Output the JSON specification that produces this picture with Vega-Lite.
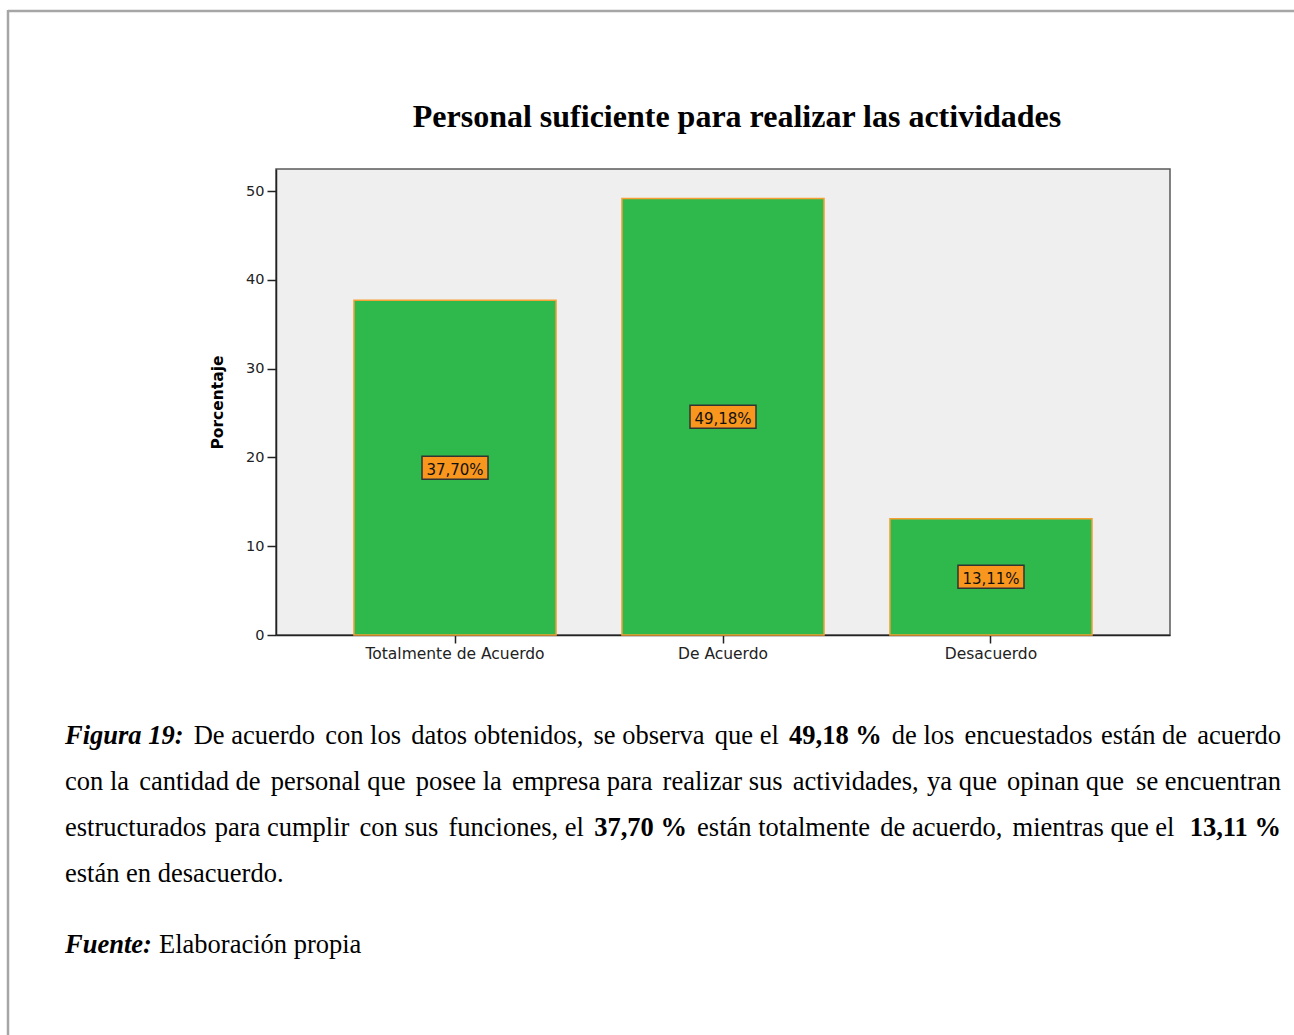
{
  "$schema": "https://vega.github.io/schema/vega-lite/v6.json",
  "width": 894,
  "height": 466,
  "autosize": {"type": "none"},
  "padding": {"left": 276, "top": 169, "right": 124, "bottom": 400},
  "background": "white",
  "config": {
    "view": {"fill": "#efefef", "stroke": "#5a5a5a", "strokeWidth": 1.5},
    "axis": {
      "grid": false,
      "labelFont": "DejaVu Sans",
      "labelFontSize": 14.5,
      "labelColor": "#222222",
      "tickColor": "#222222",
      "tickWidth": 1.5,
      "domainColor": "#222222",
      "domainWidth": 1.5
    },
    "text": {"font": "Liberation Serif", "fontSize": 26.5, "color": "#000000", "baseline": "alphabetic", "align": "left"}
  },
  "layer": [
    {
      "data": {
        "values": [
          {"respuesta": "Totalmente de Acuerdo", "porcentaje": 37.70},
          {"respuesta": "De Acuerdo", "porcentaje": 49.18},
          {"respuesta": "Desacuerdo", "porcentaje": 13.11}
        ]
      },
      "mark": {"type": "bar", "fill": "#2fb84b", "stroke": "#f5a034", "strokeWidth": 1.5},
      "encoding": {
        "x": {
          "field": "respuesta",
          "type": "nominal",
          "sort": null,
          "scale": {"paddingInner": 0.246, "paddingOuter": 0.291},
          "axis": {"title": null, "labelAngle": 0, "tickSize": 8, "labelPadding": 3, "labelFontSize": 15.5}
        },
        "y": {
          "field": "porcentaje",
          "type": "quantitative",
          "scale": {"domain": [0, 52.5], "nice": false},
          "axis": {
            "values": [0, 10, 20, 30, 40, 50],
            "tickSize": 9,
            "labelPadding": 3,
            "title": "Porcentaje",
            "titleFont": "DejaVu Sans",
            "titleFontSize": 15.5,
            "titleFontWeight": "bold",
            "titleColor": "#000000",
            "titlePadding": 20
          }
        }
      }
    },
    {
      "data": {
        "values": [
          {"respuesta": "Totalmente de Acuerdo", "porcentaje": 37.70},
          {"respuesta": "De Acuerdo", "porcentaje": 49.18},
          {"respuesta": "Desacuerdo", "porcentaje": 13.11}
        ]
      },
      "encoding": {
        "x": {"field": "respuesta", "type": "nominal", "sort": null},
        "y": {
          "field": "porcentaje",
          "type": "quantitative",
          "scale": {"domain": [0, 105], "nice": false},
          "axis": null
        }
      },
      "layer": [
        {
          "mark": {
            "type": "point",
            "shape": "M-1,-0.348H1V0.348H-1Z",
            "size": 4356,
            "filled": true,
            "fill": "#f8961e",
            "stroke": "#333333",
            "strokeWidth": 1.5,
            "opacity": 1,
            "dy": 2
          }
        },
        {
          "mark": {
            "type": "text",
            "font": "DejaVu Sans",
            "fontSize": 15,
            "color": "#111111",
            "align": "center",
            "baseline": "middle",
            "dy": 2,
            "text": {"expr": "replace(format(datum.porcentaje, '.2f'), '.', ',') + '%'"}
          }
        }
      ]
    },
    {
      "data": {"values": [{"titulo": "Personal suficiente para realizar las actividades"}]},
      "mark": {"type": "text", "fontSize": 32, "fontWeight": "bold", "align": "center"},
      "encoding": {"text": {"field": "titulo"}, "x": {"value": 461}, "y": {"value": -42}}
    },
    {
      "data": {"values": [{"borde": "superior"}]},
      "mark": {"type": "rule", "color": "#a6a6a6", "strokeWidth": 2.5},
      "encoding": {"x": {"value": -268}, "x2": {"value": 1030}, "y": {"value": -158}, "y2": {"value": -158}}
    },
    {
      "data": {"values": [{"borde": "izquierdo"}]},
      "mark": {"type": "rule", "color": "#a6a6a6", "strokeWidth": 2.5},
      "encoding": {"x": {"value": -268}, "x2": {"value": -268}, "y": {"value": -159}, "y2": {"value": 870}}
    },

    {"data": {"values": [{"texto": "Figura 19:"}]}, "mark": {"type": "text", "fontWeight": "bold", "fontStyle": "italic"}, "encoding": {"text": {"field": "texto"}, "x": {"value": -211}, "y": {"value": 575}}},
    {"data": {"values": [{"texto": "De acuerdo"}]}, "mark": {"type": "text"}, "encoding": {"text": {"field": "texto"}, "x": {"value": -82.3}, "y": {"value": 575}}},
    {"data": {"values": [{"texto": "con los"}]}, "mark": {"type": "text"}, "encoding": {"text": {"field": "texto"}, "x": {"value": 49.2}, "y": {"value": 575}}},
    {"data": {"values": [{"texto": "datos obtenidos,"}]}, "mark": {"type": "text"}, "encoding": {"text": {"field": "texto"}, "x": {"value": 135.2}, "y": {"value": 575}}},
    {"data": {"values": [{"texto": "se observa"}]}, "mark": {"type": "text"}, "encoding": {"text": {"field": "texto"}, "x": {"value": 317.5}, "y": {"value": 575}}},
    {"data": {"values": [{"texto": "que el"}]}, "mark": {"type": "text"}, "encoding": {"text": {"field": "texto"}, "x": {"value": 438.8}, "y": {"value": 575}}},
    {"data": {"values": [{"texto": "49,18 %"}]}, "mark": {"type": "text", "fontWeight": "bold"}, "encoding": {"text": {"field": "texto"}, "x": {"value": 513}, "y": {"value": 575}}},
    {"data": {"values": [{"texto": "de los"}]}, "mark": {"type": "text"}, "encoding": {"text": {"field": "texto"}, "x": {"value": 615.8}, "y": {"value": 575}}},
    {"data": {"values": [{"texto": "encuestados"}]}, "mark": {"type": "text"}, "encoding": {"text": {"field": "texto"}, "x": {"value": 688.6}, "y": {"value": 575}}},
    {"data": {"values": [{"texto": "están de"}]}, "mark": {"type": "text"}, "encoding": {"text": {"field": "texto"}, "x": {"value": 825}, "y": {"value": 575}}},
    {"data": {"values": [{"texto": "acuerdo"}]}, "mark": {"type": "text", "align": "right"}, "encoding": {"text": {"field": "texto"}, "x": {"value": 1005}, "y": {"value": 575}}},

    {"data": {"values": [{"texto": "con la"}]}, "mark": {"type": "text"}, "encoding": {"text": {"field": "texto"}, "x": {"value": -211}, "y": {"value": 621}}},
    {"data": {"values": [{"texto": "cantidad de"}]}, "mark": {"type": "text"}, "encoding": {"text": {"field": "texto"}, "x": {"value": -136.8}, "y": {"value": 621}}},
    {"data": {"values": [{"texto": "personal que"}]}, "mark": {"type": "text"}, "encoding": {"text": {"field": "texto"}, "x": {"value": -5.2}, "y": {"value": 621}}},
    {"data": {"values": [{"texto": "posee la"}]}, "mark": {"type": "text"}, "encoding": {"text": {"field": "texto"}, "x": {"value": 139.7}, "y": {"value": 621}}},
    {"data": {"values": [{"texto": "empresa para"}]}, "mark": {"type": "text"}, "encoding": {"text": {"field": "texto"}, "x": {"value": 235.9}, "y": {"value": 621}}},
    {"data": {"values": [{"texto": "realizar sus"}]}, "mark": {"type": "text"}, "encoding": {"text": {"field": "texto"}, "x": {"value": 386.6}, "y": {"value": 621}}},
    {"data": {"values": [{"texto": "actividades,"}]}, "mark": {"type": "text"}, "encoding": {"text": {"field": "texto"}, "x": {"value": 516.8}, "y": {"value": 621}}},
    {"data": {"values": [{"texto": "ya que"}]}, "mark": {"type": "text"}, "encoding": {"text": {"field": "texto"}, "x": {"value": 651}, "y": {"value": 621}}},
    {"data": {"values": [{"texto": "opinan que"}]}, "mark": {"type": "text"}, "encoding": {"text": {"field": "texto"}, "x": {"value": 731.1}, "y": {"value": 621}}},
    {"data": {"values": [{"texto": "se encuentran"}]}, "mark": {"type": "text", "align": "right"}, "encoding": {"text": {"field": "texto"}, "x": {"value": 1005}, "y": {"value": 621}}},

    {"data": {"values": [{"texto": "estructurados"}]}, "mark": {"type": "text"}, "encoding": {"text": {"field": "texto"}, "x": {"value": -211}, "y": {"value": 667}}},
    {"data": {"values": [{"texto": "para cumplir"}]}, "mark": {"type": "text"}, "encoding": {"text": {"field": "texto"}, "x": {"value": -61.3}, "y": {"value": 667}}},
    {"data": {"values": [{"texto": "con sus"}]}, "mark": {"type": "text"}, "encoding": {"text": {"field": "texto"}, "x": {"value": 83.6}, "y": {"value": 667}}},
    {"data": {"values": [{"texto": "funciones, el"}]}, "mark": {"type": "text"}, "encoding": {"text": {"field": "texto"}, "x": {"value": 172.5}, "y": {"value": 667}}},
    {"data": {"values": [{"texto": "37,70 %"}]}, "mark": {"type": "text", "fontWeight": "bold"}, "encoding": {"text": {"field": "texto"}, "x": {"value": 318.2}, "y": {"value": 667}}},
    {"data": {"values": [{"texto": "están totalmente"}]}, "mark": {"type": "text"}, "encoding": {"text": {"field": "texto"}, "x": {"value": 421.1}, "y": {"value": 667}}},
    {"data": {"values": [{"texto": "de acuerdo,"}]}, "mark": {"type": "text"}, "encoding": {"text": {"field": "texto"}, "x": {"value": 604.3}, "y": {"value": 667}}},
    {"data": {"values": [{"texto": "mientras que el"}]}, "mark": {"type": "text"}, "encoding": {"text": {"field": "texto"}, "x": {"value": 736.6}, "y": {"value": 667}}},
    {"data": {"values": [{"texto": "13,11 %"}]}, "mark": {"type": "text", "fontWeight": "bold", "align": "right"}, "encoding": {"text": {"field": "texto"}, "x": {"value": 1005}, "y": {"value": 667}}},

    {"data": {"values": [{"texto": "están en desacuerdo."}]}, "mark": {"type": "text"}, "encoding": {"text": {"field": "texto"}, "x": {"value": -211}, "y": {"value": 713}}},

    {"data": {"values": [{"texto": "Fuente:"}]}, "mark": {"type": "text", "fontWeight": "bold", "fontStyle": "italic"}, "encoding": {"text": {"field": "texto"}, "x": {"value": -211}, "y": {"value": 784}}},
    {"data": {"values": [{"texto": "Elaboración propia"}]}, "mark": {"type": "text"}, "encoding": {"text": {"field": "texto"}, "x": {"value": -117}, "y": {"value": 784}}}
  ],
  "resolve": {"scale": {"y": "independent"}}
}
